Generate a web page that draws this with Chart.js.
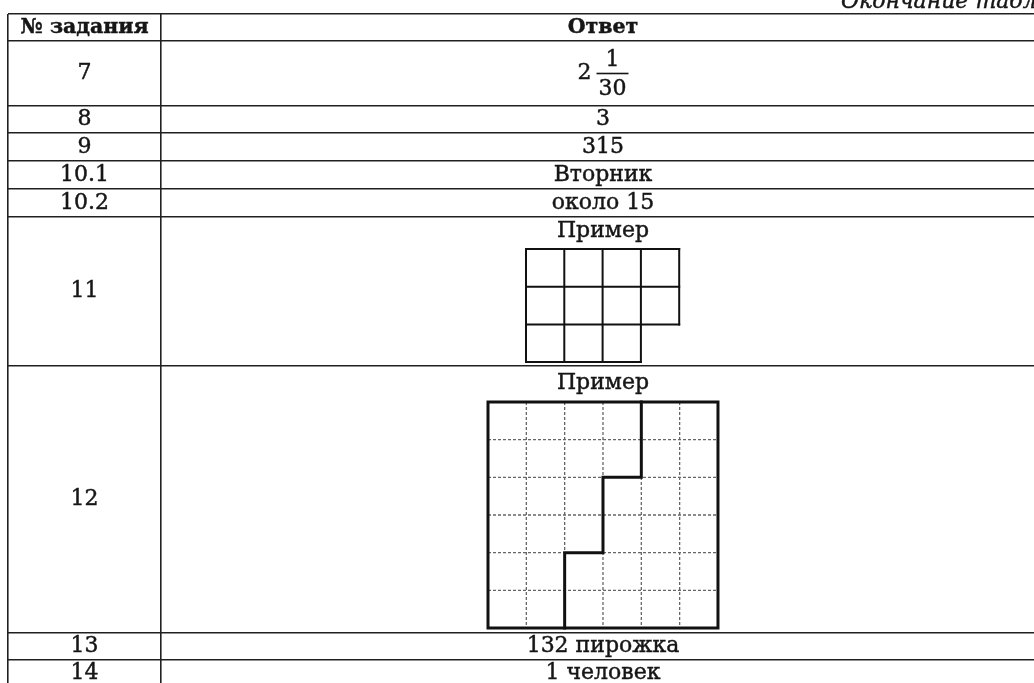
<!DOCTYPE html>
<html><head><meta charset="utf-8">
<script src="https://cdn.jsdelivr.net/npm/chart.js@4.4.1/dist/chart.umd.min.js"></script>
<style>html,body{margin:0;padding:0;background:#fff;overflow:hidden}canvas{display:block}</style>
</head><body>
<canvas id="c" width="1034" height="683"></canvas>
<script>
// ---------------- data ----------------
const headerLabels = ["№ задания", "Ответ"];
const taskNumbers = ["7", "8", "9", "10.1", "10.2", "11", "12", "13", "14"];
const answers = ["2 1/30", "3", "315", "Вторник", "около 15", "Пример", "Пример", "132 пирожка", "1 человек"];
const continuationNote = "Окончание таблицы";
// task 11 example: unit squares in each row of the figure, top to bottom
const fig11RowCells = [4, 4, 3];
// task 12 example: 6x6 square and its cut line (column, row from the top)
const fig12Size = [6, 6];
const fig12Cut = [[4, 0], [4, 2], [3, 2], [3, 4], [2, 4], [2, 6]];

// ---------------- layout (table units) ----------------
const layout = {
  rowHeights: [27, 65, 27, 28, 28, 28, 149, 267, 27, 27],
  colEdges: [0, 153],
  xMax: 1026, yMax: 669,
  numberCenter: 76.5, answerCenter: 595,
  fig11: { ox: 518, oy: 235, cw: 38.3, ch: 37.7 },
  fig12: { ox: 480, oy: 388, cw: 38.33, ch: 37.67 },
  exampleOffset: [14, 17],
  note: { x: 833, y: -6 }
};
const rowEdges = [0];
layout.rowHeights.forEach(h => rowEdges.push(rowEdges[rowEdges.length - 1] + h));

// ---------------- figure datasets ----------------
const datasets = [];
function seg(points, style) {
  datasets.push(Object.assign({
    type: 'line', data: points.map(p => ({ x: p[0], y: p[1] })),
    pointRadius: 0, fill: false, tension: 0, borderColor: '#111',
    borderWidth: 2, borderCapStyle: 'square', borderJoinStyle: 'miter', order: 0
  }, style || {}));
}
// figure 11
(function () {
  const f = layout.fig11, X = c => f.ox + c * f.cw, Y = r => f.oy + r * f.ch;
  const rows = fig11RowCells.length;
  for (let r = 0; r <= rows; r++) {
    const above = r > 0 ? fig11RowCells[r - 1] : 0, below = r < rows ? fig11RowCells[r] : 0;
    seg([[X(0), Y(r)], [X(Math.max(above, below)), Y(r)]]);
  }
  const maxC = Math.max(...fig11RowCells);
  for (let c = 0; c <= maxC; c++) {
    let last = -1;
    fig11RowCells.forEach((n, r) => { if (n >= c) last = r; });
    seg([[X(c), Y(0)], [X(c), Y(last + 1)]]);
  }
})();
// figure 12
(function () {
  const f = layout.fig12, X = c => f.ox + c * f.cw, Y = r => f.oy + r * f.ch;
  const [nc, nr] = fig12Size;
  const dash = { borderColor: '#666', borderWidth: 1.3, borderDash: [3, 2], borderCapStyle: 'butt', order: 5 };
  for (let c = 1; c < nc; c++) seg([[X(c), Y(0)], [X(c), Y(nr)]], dash);
  for (let r = 1; r < nr; r++) seg([[X(0), Y(r)], [X(nc), Y(r)]], dash);
  seg([[X(0), Y(0)], [X(nc), Y(0)], [X(nc), Y(nr)], [X(0), Y(nr)], [X(0), Y(0)]], { borderWidth: 3 });
  seg(fig12Cut.map(p => [X(p[0]), Y(p[1])]), { borderWidth: 3 });
})();

// ---------------- text plugin ----------------
const SERIF = '"DejaVu Serif", "Liberation Serif", serif';
const textPlugin = {
  id: 'tableText',
  afterDatasetsDraw(chart) {
    const { ctx, scales: { x, y } } = chart;
    const px = v => x.getPixelForValue(v), py = v => y.getPixelForValue(v);
    ctx.save();
    ctx.fillStyle = '#161616'; ctx.strokeStyle = '#161616'; ctx.lineWidth = 0.45;
    const put = (t, X, Y, stroke) => { ctx.fillText(t, X, Y); if (stroke) ctx.strokeText(t, X, Y); };
    ctx.textAlign = 'center'; ctx.textBaseline = 'middle';
    ctx.font = 'bold 20.5px ' + SERIF;
    const hy = py(rowEdges[0] + layout.rowHeights[0] / 2);
    put(headerLabels[0], px(layout.numberCenter), hy, true);
    put(headerLabels[1], px(layout.answerCenter), hy, true);
    ctx.font = '22px ' + SERIF;
    let exIdx = 0;
    taskNumbers.forEach((t, i) => {
      const r = i + 1, top = rowEdges[r], cy = py(top + layout.rowHeights[r] / 2);
      put(t, px(layout.numberCenter), cy, true);
      const a = answers[i];
      const m = a.match(/^(\d+) (\d+)\/(\d+)$/);
      if (m) {
        const wW = ctx.measureText(m[1]).width;
        const fw = Math.max(ctx.measureText(m[2]).width, ctx.measureText(m[3]).width) + 4;
        const gap = 5, total = wW + gap + fw, x0 = px(layout.answerCenter) - total / 2;
        ctx.textAlign = 'left';
        put(m[1], x0, cy, true);
        ctx.textAlign = 'center';
        const fc = x0 + wW + gap + fw / 2;
        put(m[2], fc, cy - 13, true);
        put(m[3], fc, cy + 16, true);
        ctx.fillRect(x0 + wW + gap, cy - 0.8, fw, 1.6);
      } else if (a === 'Пример') {
        put(a, px(layout.answerCenter), py(top + layout.exampleOffset[exIdx++]), true);
      } else {
        put(a, px(layout.answerCenter), cy, true);
      }
    });
    ctx.font = 'italic 22px ' + SERIF;
    ctx.textAlign = 'left'; ctx.textBaseline = 'alphabetic';
    put(continuationNote, px(layout.note.x), py(layout.note.y), true);
    ctx.restore();
  }
};

new Chart(document.getElementById('c'), {
  type: 'line',
  data: { datasets },
  options: {
    responsive: false, animation: false, events: [],
    layout: { padding: { left: 8, top: 14, right: 0, bottom: 0 } },
    plugins: { legend: { display: false }, tooltip: { enabled: false } },
    scales: {
      x: {
        type: 'linear', min: 0, max: layout.xMax,
        ticks: { display: false }, border: { display: false },
        grid: { color: '#202020', lineWidth: 1.6, drawTicks: false },
        afterBuildTicks: s => { s.ticks = layout.colEdges.map(v => ({ value: v })); }
      },
      y: {
        type: 'linear', reverse: true, min: 0, max: layout.yMax,
        ticks: { display: false }, border: { display: false },
        grid: { color: '#202020', lineWidth: 1.6, drawTicks: false },
        afterBuildTicks: s => { s.ticks = rowEdges.filter(v => v <= layout.yMax).map(v => ({ value: v })); }
      }
    }
  },
  plugins: [textPlugin]
});
</script>
</body></html>
